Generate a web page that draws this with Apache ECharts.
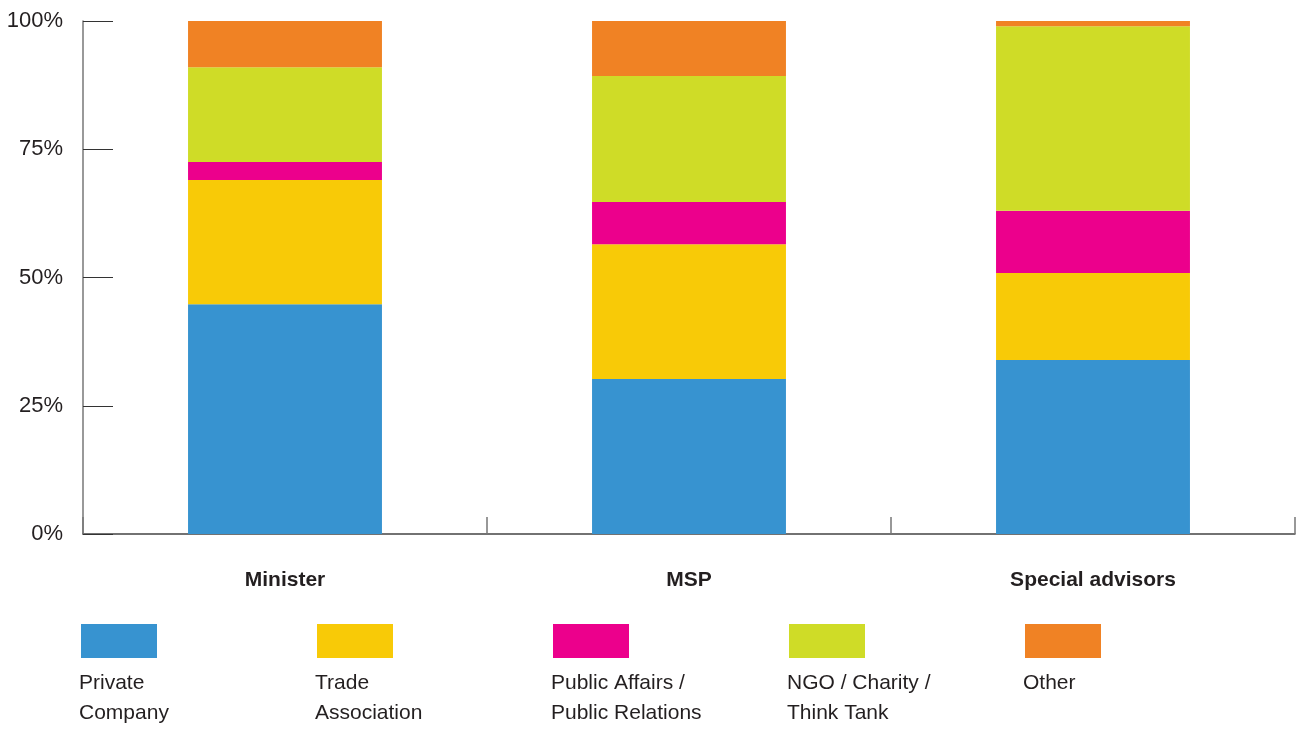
<!DOCTYPE html>
<html>
<head>
<meta charset="utf-8">
<script src="https://cdn.jsdelivr.net/npm/echarts@6/dist/echarts.min.js"></script>
<style>
  html, body { margin: 0; padding: 0; background: #ffffff; }
  #chart { width: 1301px; height: 729px; }
</style>
</head>
<body>
<div id="chart"></div>
<script>
// Share of meetings by organisation type, per contact group (percent)
const categories = ['Minister', 'MSP', 'Special advisors'];
const seriesNames = ['Private Company', 'Trade Association', 'Public Affairs / Public Relations', 'NGO / Charity / Think Tank', 'Other'];
const legendLabels = ['Private\nCompany', 'Trade\nAssociation', 'Public Affairs /\nPublic Relations', 'NGO / Charity /\nThink Tank', 'Other'];
const privateCompany = [44.8, 30.2, 33.9];
const tradeAssociation = [24.2, 26.3, 17.0];
const publicAffairs = [3.5, 8.2, 12.1];
const ngoCharity = [18.5, 24.6, 36.0];
const other = [9.0, 10.7, 1.0];
const yTicks = [0, 25, 50, 75, 100];

const values = [privateCompany, tradeAssociation, publicAffairs, ngoCharity, other];
const colors = ['#3793d0', '#f8ca07', '#ec008c', '#cfdc27', '#f08224'];
const FONT = '"Liberation Sans", Arial, sans-serif';
const TEXT = '#231f20';

const chart = echarts.init(document.getElementById('chart'), null, { renderer: 'canvas' });

const legendX0 = 81, legendStep = 236;

const option = {
  animation: false,
  backgroundColor: '#ffffff',
  grid: { left: 83, right: 6, top: 21, bottom: 195, containLabel: false, outerBoundsMode: 'none' },
  xAxis: {
    type: 'category',
    data: categories,
    boundaryGap: true,
    axisLine: { show: true, lineStyle: { color: '#444', width: 1.5 } },
    axisTick: { show: true, inside: true, length: 17, lineStyle: { color: '#777', width: 1.5 } },
    axisLabel: { color: TEXT, fontFamily: FONT, fontSize: 21, fontWeight: 'bold', margin: 36 }
  },
  yAxis: {
    type: 'value',
    min: yTicks[0],
    max: yTicks[yTicks.length - 1],
    interval: 25,
    splitLine: { show: false },
    axisLine: { show: true, lineStyle: { color: '#777', width: 1.5 } },
    axisTick: { show: true, inside: true, length: 30, lineStyle: { color: '#333', width: 1 } },
    axisLabel: { color: TEXT, fontFamily: FONT, fontSize: 22, margin: 20, padding: [4, 0, 0, 0], formatter: v => v + '%' }
  },
  legend: seriesNames.map((name, i) => ({
    data: [name],
    left: legendX0 + i * legendStep,
    top: 624,
    orient: 'horizontal',
    itemWidth: 76,
    itemHeight: 34,
    icon: 'rect',
    formatter: () => '',
    selectedMode: false,
    padding: 0
  })),
  graphic: legendLabels.map((t, i) => ({
    type: 'text',
    left: legendX0 - 2 + i * legendStep,
    top: 668,
    style: { text: t, fill: TEXT, font: '21px ' + FONT, lineHeight: 30 }
  })),
  series: seriesNames.map((name, i) => ({
    name,
    type: 'bar',
    stack: 'total',
    barWidth: '48%',
    itemStyle: { color: colors[i] },
    data: values[i]
  }))
};

chart.setOption(option);
</script>
</body>
</html>
